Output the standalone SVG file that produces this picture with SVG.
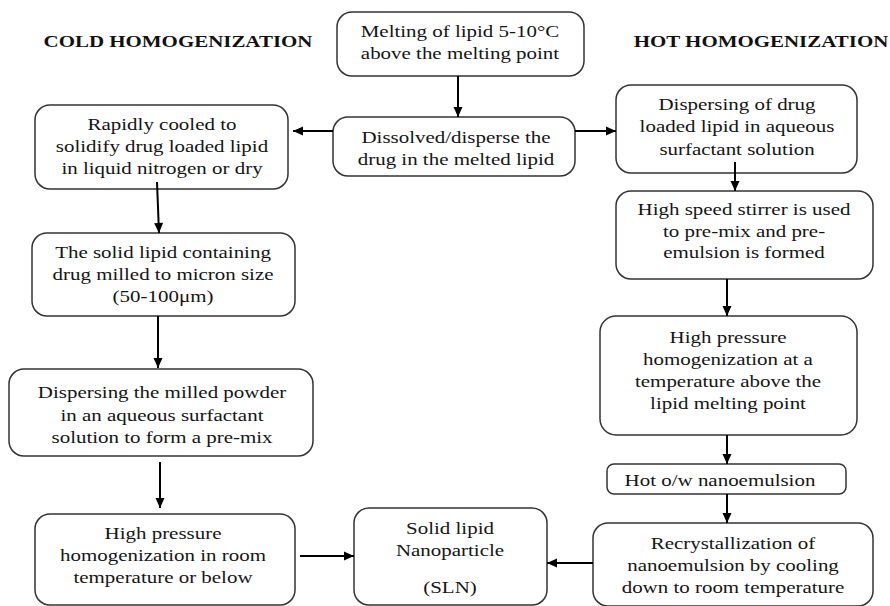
<svg xmlns="http://www.w3.org/2000/svg" width="890" height="606" viewBox="0 0 890 606">
<style>
  .box { fill: #ffffff; stroke: #333333; stroke-width: 1.5; }
  .t { font-family: 'Liberation Serif', 'Times New Roman', Tinos, serif; font-size: 16.5px; fill: #151515; text-anchor: middle; }
  .title { font-family: 'Liberation Serif', 'Times New Roman', serif; font-size: 16.5px; font-weight: bold; fill: #111; text-anchor: middle; }
  .arrow { stroke: #000; stroke-width: 2; fill: none; marker-end: url(#head); }
</style>
<defs>
  <marker id="head" markerUnits="userSpaceOnUse" markerWidth="12" markerHeight="12" viewBox="0 0 12 12" refX="11" refY="6" orient="auto">
    <path d="M1,1.5 L11,6 L1,10.5 Z" fill="#000"/>
  </marker>
</defs>
<rect width="890" height="606" fill="#ffffff"/>

<g id="title-cold"><g transform="translate(178,0) scale(1.27,1)"><text class="title" x="0" y="47">COLD HOMOGENIZATION</text></g></g>
<g id="title-hot"><g transform="translate(761,0) scale(1.27,1)"><text class="title" x="0" y="47">HOT HOMOGENIZATION</text></g></g>

<g id="melting">
  <rect class="box" x="337" y="12" width="247" height="64" rx="15"/>
  <g transform="translate(460,0) scale(1.27,1)">
    <text class="t" x="0" y="37">Melting of lipid 5-10°C</text>
    <text class="t" x="0" y="59">above the melting point</text>
  </g>
</g>

<g id="dissolve">
  <rect class="box" x="333" y="117" width="242" height="59" rx="15"/>
  <g transform="translate(456,0) scale(1.27,1)">
    <text class="t" x="0" y="143">Dissolved/disperse the</text>
    <text class="t" x="0" y="165">drug in the melted lipid</text>
  </g>
</g>

<g id="rapid-cool">
  <rect class="box" x="35" y="105" width="253" height="84" rx="15"/>
  <g transform="translate(162,0) scale(1.27,1)">
    <text class="t" x="0" y="130">Rapidly cooled to</text>
    <text class="t" x="0" y="152">solidify drug loaded lipid</text>
    <text class="t" x="0" y="174">in liquid nitrogen or dry</text>
  </g>
</g>

<g id="milled">
  <rect class="box" x="32" y="233" width="263" height="83" rx="15"/>
  <g transform="translate(163,0) scale(1.27,1)">
    <text class="t" x="0" y="258">The solid lipid containing</text>
    <text class="t" x="0" y="280">drug milled to micron size</text>
    <text class="t" x="0" y="302">(50-100μm)</text>
  </g>
</g>

<g id="disperse-milled">
  <rect class="box" x="9" y="369" width="304" height="87" rx="15"/>
  <g transform="translate(162,0) scale(1.27,1)">
    <text class="t" x="0" y="398">Dispersing the milled powder</text>
    <text class="t" x="0" y="421">in an aqueous surfactant</text>
    <text class="t" x="0" y="443">solution to form a pre-mix</text>
  </g>
</g>

<g id="hp-cold">
  <rect class="box" x="35" y="514" width="260" height="91" rx="15"/>
  <g transform="translate(163,0) scale(1.27,1)">
    <text class="t" x="0" y="539">High pressure</text>
    <text class="t" x="0" y="561">homogenization in room</text>
    <text class="t" x="0" y="583">temperature or below</text>
  </g>
</g>

<g id="sln">
  <rect class="box" x="354" y="508" width="193" height="97" rx="15"/>
  <g transform="translate(450,0) scale(1.27,1)">
    <text class="t" x="0" y="534">Solid lipid</text>
    <text class="t" x="0" y="556">Nanoparticle</text>
    <text class="t" x="0" y="593">(SLN)</text>
  </g>
</g>

<g id="disperse-hot">
  <rect class="box" x="616" y="85" width="241" height="88" rx="15"/>
  <g transform="translate(737,0) scale(1.27,1)">
    <text class="t" x="0" y="110">Dispersing of drug</text>
    <text class="t" x="0" y="132">loaded lipid in aqueous</text>
    <text class="t" x="0" y="155">surfactant solution</text>
  </g>
</g>

<g id="stirrer">
  <rect class="box" x="616" y="191" width="257" height="88" rx="15"/>
  <g transform="translate(744,0) scale(1.27,1)">
    <text class="t" x="0" y="215">High speed stirrer is used</text>
    <text class="t" x="0" y="237">to pre-mix and pre-</text>
    <text class="t" x="0" y="258">emulsion is formed</text>
  </g>
</g>

<g id="hp-hot">
  <rect class="box" x="600" y="316" width="257" height="119" rx="16"/>
  <g transform="translate(728,0) scale(1.27,1)">
    <text class="t" x="0" y="343">High pressure</text>
    <text class="t" x="0" y="365">homogenization at a</text>
    <text class="t" x="0" y="387">temperature above the</text>
    <text class="t" x="0" y="409">lipid melting point</text>
  </g>
</g>

<g id="nanoemulsion">
  <rect class="box" x="607" y="464" width="239" height="30" rx="7"/>
  <g transform="translate(720,0) scale(1.27,1)">
    <text class="t" x="0" y="486">Hot o/w nanoemulsion</text>
  </g>
</g>

<g id="recrystallization">
  <rect class="box" x="593" y="523" width="280" height="83" rx="15"/>
  <g transform="translate(733,0) scale(1.27,1)">
    <text class="t" x="0" y="549">Recrystallization of</text>
    <text class="t" x="0" y="571">nanoemulsion by cooling</text>
    <text class="t" x="0" y="593">down to room temperature</text>
  </g>
</g>

<g id="connectors">
  <line class="arrow" x1="458" y1="76" x2="458" y2="117"/>
  <line class="arrow" x1="333" y1="131" x2="293" y2="131"/>
  <line class="arrow" x1="575" y1="131" x2="616" y2="131"/>
  <line class="arrow" x1="157" y1="182" x2="159" y2="233"/>
  <line class="arrow" x1="158" y1="316" x2="158" y2="368"/>
  <line class="arrow" x1="160" y1="462" x2="160" y2="508"/>
  <line class="arrow" x1="300" y1="556" x2="354" y2="556"/>
  <line class="arrow" x1="735" y1="162" x2="735" y2="191"/>
  <line class="arrow" x1="727" y1="279" x2="727" y2="316"/>
  <line class="arrow" x1="727" y1="435" x2="727" y2="464"/>
  <line class="arrow" x1="727" y1="494" x2="727" y2="523"/>
  <line class="arrow" x1="593" y1="563" x2="547" y2="563"/>
</g>
</svg>
